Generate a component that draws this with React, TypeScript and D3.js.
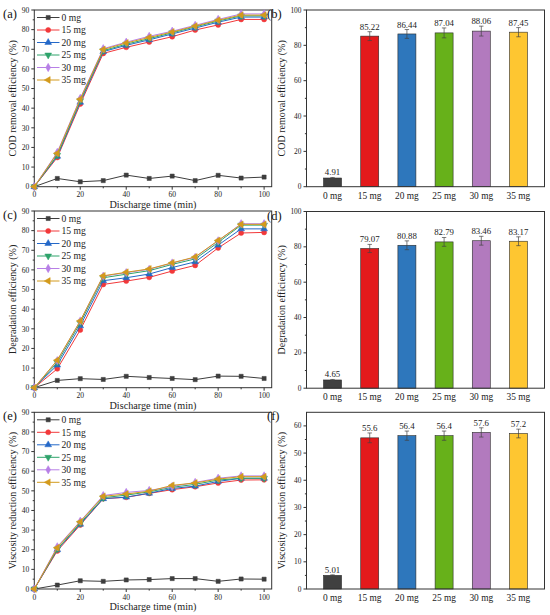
import React from 'react';
import * as d3 from 'd3';

const TIMES = [0, 10, 20, 30, 40, 50, 60, 70, 80, 90, 100];
const SERIES = ['0 mg', '15 mg', '20 mg', '25 mg', '30 mg', '35 mg'];
const LINE_COLORS = ['#3d3d3d', '#f2383a', '#2468c8', '#2fa36b', '#b77fe6', '#d39a1c'];
const BAR_COLORS = ['#404040', '#e31a1c', '#2e77bc', '#67b11a', '#b27abe', '#fec631'];

// (a) COD removal efficiency vs time
const COD_0 = [0, 4.2, 2.5, 3.1, 5.9, 4.2, 5.4, 3.1, 5.8, 4.4, 4.9];
const COD_15 = [0, 14.9, 42.1, 67.9, 71.0, 73.7, 76.4, 79.8, 82.4, 85.2, 85.2];
const COD_20 = [0, 15.5, 43.0, 68.8, 72.0, 74.8, 77.8, 80.8, 83.8, 86.4, 86.4];
const COD_25 = [0, 16.0, 43.8, 69.3, 72.6, 75.4, 78.4, 81.4, 84.4, 87.0, 87.0];
const COD_30 = [0, 17.5, 45.0, 70.3, 73.6, 76.6, 79.2, 82.2, 85.2, 88.0, 88.0];
const COD_35 = [0, 17.0, 44.6, 69.9, 73.2, 76.0, 78.8, 81.8, 84.8, 87.4, 87.4];

// (c) Degradation efficiency vs time
const DEG_0 = [0, 3.7, 4.6, 4.2, 5.8, 5.2, 4.7, 4.1, 5.9, 5.8, 4.7];
const DEG_15 = [0, 9.6, 29.4, 52.6, 54.3, 56.2, 59.4, 62.3, 71.2, 78.8, 79.1];
const DEG_20 = [0, 11.5, 31.5, 54.5, 56.0, 57.9, 61.2, 64.1, 72.6, 80.9, 80.9];
const DEG_25 = [0, 12.8, 33.0, 56.0, 57.8, 59.6, 62.8, 65.6, 74.0, 82.8, 82.8];
const DEG_30 = [0, 13.8, 34.0, 56.8, 58.6, 60.3, 63.5, 66.4, 74.8, 83.5, 83.5];
const DEG_35 = [0, 14.0, 34.0, 57.0, 58.8, 60.5, 63.6, 66.6, 75.0, 83.2, 83.2];

// (e) Viscosity reduction efficiency vs time
const VIS_0 = [0, 2.0, 4.2, 3.9, 4.6, 4.8, 5.3, 5.3, 3.9, 5.1, 5.0];
const VIS_15 = [0, 19.4, 32.6, 46.0, 46.7, 48.7, 50.6, 52.1, 54.0, 55.5, 55.6];
const VIS_20 = [0, 20.0, 33.0, 46.0, 46.8, 48.8, 51.2, 52.4, 54.8, 56.4, 56.4];
const VIS_25 = [0, 20.3, 33.5, 46.5, 47.8, 49.5, 51.8, 53.3, 55.5, 56.4, 56.4];
const VIS_30 = [0, 21.5, 34.5, 47.6, 49.2, 50.2, 52.2, 54.3, 56.4, 57.6, 57.6];
const VIS_35 = [0, 21.0, 34.2, 47.2, 48.4, 49.8, 52.8, 54.0, 56.0, 57.2, 57.2];

// (b), (d), (f) final values
const COD_FINAL = [4.91, 85.22, 86.44, 87.04, 88.06, 87.45];
const COD_ERR = [0.3, 2.5, 2.5, 2.8, 2.8, 2.6];
const DEG_FINAL = [4.65, 79.07, 80.88, 82.79, 83.46, 83.17];
const DEG_ERR = [0.3, 2.3, 2.5, 2.5, 2.5, 2.5];
const VIS_FINAL = [5.01, 55.6, 56.4, 56.4, 57.6, 57.2];
const VIS_ERR = [0.2, 1.8, 1.7, 1.7, 1.7, 1.6];
const VIS_LABELS = ['5.01', '55.6', '56.4', '56.4', '57.6', '57.2'];

const FONT = '"Liberation Serif", "Times New Roman", serif';
const PANEL_H = 176.7;
const AXIS = '#333';

type SymbolSpec = { type: d3.SymbolType; size: number; rot: number };
const SYMBOLS: SymbolSpec[] = [
  { type: d3.symbolSquare, size: 17, rot: 0 },
  { type: d3.symbolCircle, size: 20, rot: 0 },
  { type: d3.symbolTriangle, size: 20, rot: 0 },
  { type: d3.symbolTriangle, size: 20, rot: 180 },
  { type: d3.symbolDiamond, size: 20, rot: 0 },
  { type: d3.symbolTriangle, size: 20, rot: -90 },
];

function Marker({ x, y, i }: { x: number; y: number; i: number }) {
  const s = SYMBOLS[i];
  const p = d3.symbol().type(s.type).size(s.size)() || '';
  return (
    <path
      d={p}
      transform={`translate(${x},${y}) rotate(${s.rot})`}
      fill={LINE_COLORS[i]}
      stroke={LINE_COLORS[i]}
      strokeWidth={0.5}
    />
  );
}

function LinePanel({ top, data, yLabel, label }: { top: number; data: number[][]; yLabel: string; label: string }) {
  const left = 34.3;
  const right = 271.7;
  const bottom = top + PANEL_H;
  const x = d3.scaleLinear().domain([0, 103.3]).range([left, right]);
  const y = d3.scaleLinear().domain([0, 90]).range([bottom, top]);
  const line = d3
    .line<number>()
    .x((_, k) => x(TIMES[k]))
    .y((d) => y(d));
  const yMajor = d3.range(0, 91, 10);
  const yMinor = d3.range(5, 90, 10);
  const xMajor = d3.range(0, 101, 20);
  const xMinor = d3.range(10, 100, 20);
  return (
    <g>
      <rect x={left} y={top} width={right - left} height={PANEL_H} fill="none" stroke={AXIS} strokeWidth={1} />
      {yMajor.map((v) => (
        <g key={'ym' + v}>
          <line x1={left - 3} x2={left} y1={y(v)} y2={y(v)} stroke={AXIS} />
          <text x={left - 5} y={y(v) + 2.7} fontSize={7.6} textAnchor="end" fontFamily={FONT} fill="#222">
            {v}
          </text>
        </g>
      ))}
      {yMinor.map((v) => (
        <line key={'yn' + v} x1={left - 1.6} x2={left} y1={y(v)} y2={y(v)} stroke={AXIS} />
      ))}
      {xMajor.map((v) => (
        <g key={'xm' + v}>
          <line x1={x(v)} x2={x(v)} y1={bottom} y2={bottom + 3} stroke={AXIS} />
          <text x={x(v)} y={bottom + 10.5} fontSize={7.6} textAnchor="middle" fontFamily={FONT} fill="#222">
            {v}
          </text>
        </g>
      ))}
      {xMinor.map((v) => (
        <line key={'xn' + v} x1={x(v)} x2={x(v)} y1={bottom} y2={bottom + 1.6} stroke={AXIS} />
      ))}
      <text x={(left + right) / 2} y={bottom + 21.3} fontSize={10.2} textAnchor="middle" fontFamily={FONT} fill="#222">
        Discharge time (min)
      </text>
      <text
        transform={`translate(${15.5},${(top + bottom) / 2}) rotate(-90)`}
        fontSize={10}
        textAnchor="middle"
        fontFamily={FONT}
        fill="#222"
      >
        {yLabel}
      </text>
      <text x={3} y={top + 8} fontSize={12.5} fontFamily={FONT} fill="#111">
        {label}
      </text>
      {data.map((series, i) => (
        <g key={'s' + i}>
          <path d={line(series) || ''} fill="none" stroke={LINE_COLORS[i]} strokeWidth={1} />
          {series.map((v, k) => (
            <Marker key={k} x={x(TIMES[k])} y={y(v)} i={i} />
          ))}
        </g>
      ))}
      {SERIES.map((name, i) => {
        const ly = top + 7.5 + i * 12.5;
        return (
          <g key={'lg' + i}>
            <line x1={37} x2={59.5} y1={ly} y2={ly} stroke={LINE_COLORS[i]} strokeWidth={1} />
            <Marker x={48.2} y={ly} i={i} />
            <text x={61.5} y={ly + 3.3} fontSize={9.6} fontFamily={FONT} fill="#222">
              {name}
            </text>
          </g>
        );
      })}
    </g>
  );
}

function BarPanel({
  top,
  values,
  errors,
  labels,
  yMax,
  yStep,
  yLabel,
  label,
}: {
  top: number;
  values: number[];
  errors: number[];
  labels: string[];
  yMax: number;
  yStep: number;
  yLabel: string;
  label: string;
}) {
  const left = 306.5;
  const right = 544.5;
  const bottom = top + PANEL_H;
  const x = d3.scalePoint<string>().domain(SERIES).range([left, right]).padding(0.7);
  const y = d3.scaleLinear().domain([0, yMax]).range([bottom, top]);
  const bw = 18;
  const topTick = Math.floor(yMax / yStep) * yStep;
  const yMajor = d3.range(0, topTick + 0.01, yStep);
  const yMinor = d3.range(yStep / 2, yMax, yStep);
  return (
    <g>
      {values.map((v, i) => {
        const cx = x(SERIES[i]) as number;
        const e = errors[i];
        return (
          <g key={'b' + i}>
            <rect x={cx - bw / 2} y={y(v)} width={bw} height={bottom - y(v)} fill={BAR_COLORS[i]} stroke="#2a2a2a" strokeWidth={0.6} />
            <line x1={cx} x2={cx} y1={y(v + e)} y2={y(v - e)} stroke="#444" strokeWidth={0.7} />
            <line x1={cx - 2.2} x2={cx + 2.2} y1={y(v + e)} y2={y(v + e)} stroke="#444" strokeWidth={0.7} />
            <line x1={cx - 2.2} x2={cx + 2.2} y1={y(v - e)} y2={y(v - e)} stroke="#444" strokeWidth={0.7} />
            <text x={cx} y={y(v + e) - 2} fontSize={8.8} textAnchor="middle" fontFamily={FONT} fill="#222">
              {labels[i]}
            </text>
            <text x={cx} y={bottom + 12} fontSize={9.4} textAnchor="middle" fontFamily={FONT} fill="#222">
              {SERIES[i]}
            </text>
          </g>
        );
      })}
      <rect x={left} y={top} width={right - left} height={PANEL_H} fill="none" stroke={AXIS} strokeWidth={1} />
      {yMajor.map((v) => (
        <g key={'ym' + v}>
          <line x1={left - 3} x2={left} y1={y(v)} y2={y(v)} stroke={AXIS} />
          <text x={left - 5} y={y(v) + 2.5} fontSize={7.4} textAnchor="end" fontFamily={FONT} fill="#222">
            {v}
          </text>
        </g>
      ))}
      {yMinor.map((v) => (
        <line key={'yn' + v} x1={left - 1.6} x2={left} y1={y(v)} y2={y(v)} stroke={AXIS} />
      ))}
      <text
        transform={`translate(${285},${(top + bottom) / 2}) rotate(-90)`}
        fontSize={10}
        textAnchor="middle"
        fontFamily={FONT}
        fill="#222"
      >
        {yLabel}
      </text>
      <text x={267} y={top + 8} fontSize={12.5} fontFamily={FONT} fill="#111">
        {label}
      </text>
    </g>
  );
}

export default function App() {
  const fmt2 = (v: number) => v.toFixed(2);
  return (
    <svg
      width={550}
      height={615}
      viewBox="0 0 550 615"
      style={{ position: 'absolute', left: 0, top: 0, background: '#fff' }}
    >
      <rect x={0} y={0} width={550} height={615} fill="#fff" />
      <LinePanel
        top={10}
        data={[COD_0, COD_15, COD_20, COD_25, COD_30, COD_35]}
        yLabel="COD removal efficiency (%)"
        label="(a)"
      />
      <LinePanel
        top={211}
        data={[DEG_0, DEG_15, DEG_20, DEG_25, DEG_30, DEG_35]}
        yLabel="Degradation efficiency (%)"
        label="(c)"
      />
      <LinePanel
        top={412.3}
        data={[VIS_0, VIS_15, VIS_20, VIS_25, VIS_30, VIS_35]}
        yLabel="Viscosity reduction efficiency (%)"
        label="(e)"
      />
      <BarPanel
        top={10}
        values={COD_FINAL}
        errors={COD_ERR}
        labels={COD_FINAL.map(fmt2)}
        yMax={100}
        yStep={20}
        yLabel="COD removal efficiency (%)"
        label="(b)"
      />
      <BarPanel
        top={211.5}
        values={DEG_FINAL}
        errors={DEG_ERR}
        labels={DEG_FINAL.map(fmt2)}
        yMax={100}
        yStep={20}
        yLabel="Degradation efficiency (%)"
        label="(d)"
      />
      <BarPanel
        top={412.3}
        values={VIS_FINAL}
        errors={VIS_ERR}
        labels={VIS_LABELS}
        yMax={65}
        yStep={10}
        yLabel="Viscosity reduction efficiency (%)"
        label="(f)"
      />
    </svg>
  );
}
